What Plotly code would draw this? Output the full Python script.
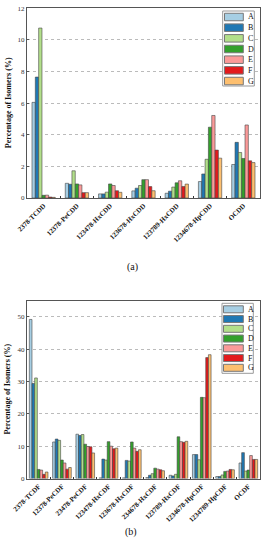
import plotly.graph_objects as go

# ---------------- data ----------------
series_names = ["A", "B", "C", "D", "E", "F", "G"]
series_colors = ["#a6cee3", "#1f78b4", "#b2df8a", "#33a02c", "#fb9a99", "#e31a1c", "#fdbf6f"]

pcdd_labels = ["2378-TCDD", "12378-PeCDD", "123478-HxCDD", "123678-HxCDD",
               "123789-HxCDD", "1234678-HpCDD", "OCDD"]
pcdd_A = [6.05, 0.93, 0.26, 0.45, 0.30, 1.04, 2.12]
pcdd_B = [7.65, 0.87, 0.26, 0.62, 0.43, 1.52, 3.52]
pcdd_C = [10.75, 1.72, 0.37, 0.79, 0.69, 2.45, 2.88]
pcdd_D = [0.17, 0.89, 0.89, 1.16, 0.96, 4.48, 2.50]
pcdd_E = [0.18, 0.83, 0.79, 1.16, 1.09, 5.22, 4.62]
pcdd_F = [0.06, 0.34, 0.46, 0.72, 0.73, 3.03, 2.35]
pcdd_G = [0.04, 0.34, 0.36, 0.46, 0.88, 2.52, 2.24]

pcdf_labels = ["2378-TCDF", "12378-PeCDF", "23478-PeCDF", "123478-HxCDF", "123678-HxCDF",
               "234678-HxCDF", "123789-HxCDF", "1234678-HpCDF", "1234789-HpCDF", "OCDF"]
pcdf_A = [49.2, 11.3, 13.7, 0.2, 0.2, 0.3, 1.0, 7.4, 0.6, 4.8]
pcdf_B = [29.4, 12.2, 13.3, 6.0, 5.6, 1.0, 0.8, 7.4, 0.6, 8.0]
pcdf_C = [31.1, 11.8, 13.6, 5.7, 5.4, 1.5, 1.3, 5.8, 1.1, 2.3]
pcdf_D = [2.8, 5.7, 10.6, 11.4, 11.3, 3.2, 12.9, 25.1, 2.2, 2.6]
pcdf_E = [2.6, 4.8, 9.9, 10.0, 9.4, 2.9, 11.4, 25.0, 2.3, 7.1]
pcdf_F = [1.3, 2.9, 9.8, 9.2, 8.4, 2.7, 11.2, 37.4, 2.8, 5.9]
pcdf_G = [2.0, 3.4, 7.9, 9.4, 8.9, 2.4, 11.5, 38.3, 2.7, 5.9]

pcdd_ticks = [0, 2, 4, 6, 8, 10, 12]
pcdf_ticks = [0, 10, 20, 30, 40, 50]

pcdd_values = [pcdd_A, pcdd_B, pcdd_C, pcdd_D, pcdd_E, pcdd_F, pcdd_G]
pcdf_values = [pcdf_A, pcdf_B, pcdf_C, pcdf_D, pcdf_E, pcdf_F, pcdf_G]

# ---------------- layout helpers ----------------
W, H = 269, 550
FONT = "Liberation Serif"


def px(x):
    return x / W


def py(y):
    return 1 - y / H


fig = go.Figure()

n = len(series_names)
w_top = 0.70 / n
w_bot = 0.80 / n
for i, (name, color, vals) in enumerate(zip(series_names, series_colors, pcdd_values)):
    fig.add_trace(go.Bar(x=pcdd_labels, y=vals, name=name, marker_color=color,
                         marker_line=dict(color="#444444", width=0.6),
                         width=w_top, offset=-n * w_top / 2 + i * w_top,
                         xaxis="x", yaxis="y", showlegend=False))
for i, (name, color, vals) in enumerate(zip(series_names, series_colors, pcdf_values)):
    fig.add_trace(go.Bar(x=pcdf_labels, y=vals, name=name, marker_color=color,
                         marker_line=dict(color="#444444", width=0.6),
                         width=w_bot, offset=-n * w_bot / 2 + i * w_bot,
                         xaxis="x2", yaxis="y2", showlegend=False))

xcommon = dict(showline=True, linecolor="#555555", linewidth=1, mirror=True,
               ticks="inside", ticklen=2, tickcolor="#333333", tickson="boundaries",
               tickangle=-45, tickfont=dict(family=FONT, size=7, color="#111111"),
               automargin=False, showgrid=False)
ycommon = dict(showline=True, linecolor="#555555", linewidth=1, mirror=True,
               ticks="inside", ticklen=2, tickcolor="#555555",
               tickfont=dict(family=FONT, size=7, color="#333333"),
               showgrid=True, gridcolor="#bbbbbb", griddash="dot", gridwidth=0.8,
               zeroline=False, automargin=False)

fig.update_layout(
    width=W, height=H,
    margin=dict(l=0, r=0, t=0, b=0),
    paper_bgcolor="white", plot_bgcolor="white",
    barmode="overlay",
    showlegend=False,
    xaxis=dict(domain=[px(27), px(260)], anchor="y",
               tickvals=pcdd_labels, ticktext=["<b>%s</b>" % t for t in pcdd_labels], **xcommon),
    yaxis=dict(domain=[py(198), py(8.3)], anchor="x", range=[0, 12],
               tickvals=pcdd_ticks, **ycommon),
    xaxis2=dict(domain=[px(27), px(260)], anchor="y2",
                tickvals=pcdf_labels, ticktext=["<b>%s</b>" % t for t in pcdf_labels], **xcommon),
    yaxis2=dict(domain=[py(478.5), py(300.7)], anchor="x2", range=[0, 55],
                tickvals=pcdf_ticks, **ycommon),
)

annotations = []
shapes = []

# y-axis titles
for yc in [(8.3 + 198) / 2, (300.7 + 478.5) / 2]:
    annotations.append(dict(x=px(8), y=py(yc), xref="paper", yref="paper",
                            text="<b>Percentage of Isomers (%)</b>", textangle=-90,
                            showarrow=False, font=dict(family=FONT, size=8, color="#111111"),
                            xanchor="center", yanchor="middle"))

# captions
annotations.append(dict(x=px(132), y=py(267), xref="paper", yref="paper", text="(a)",
                        showarrow=False, font=dict(family=FONT, size=10, color="#111111")))
annotations.append(dict(x=px(131), y=py(540), xref="paper", yref="paper", text="(b)",
                        showarrow=False, font=dict(family=FONT, size=10, color="#111111")))

# manual legends
legend_specs = [
    dict(box=(222.7, 11, 254.3, 86), first=17, step=10.67, rx=(224.5, 243.3), rh=7.5),
    dict(box=(222, 303.3, 253.3, 373.3), first=309.3, step=9.75, rx=(223.5, 243.3), rh=7),
]
for spec in legend_specs:
    x0, y0, x1, y1 = spec["box"]
    shapes.append(dict(type="rect", xref="paper", yref="paper",
                       x0=px(x0), x1=px(x1), y0=py(y1), y1=py(y0),
                       line=dict(color="#999999", width=1), fillcolor="white", layer="above"))
    for i, (name, color) in enumerate(zip(series_names, series_colors)):
        cy = spec["first"] + i * spec["step"]
        shapes.append(dict(type="rect", xref="paper", yref="paper",
                           x0=px(spec["rx"][0]), x1=px(spec["rx"][1]),
                           y0=py(cy + spec["rh"] / 2), y1=py(cy - spec["rh"] / 2),
                           line=dict(color="#777777", width=1), fillcolor=color, layer="above"))
        annotations.append(dict(x=px(245.5), y=py(cy), xref="paper", yref="paper",
                                text=name, showarrow=False, xanchor="left", yanchor="middle",
                                font=dict(family=FONT, size=8, color="#111111")))

fig.update_layout(annotations=annotations, shapes=shapes)

fig.write_html("out.html",
               config={"displayModeBar": False},
               post_script="document.body.style.margin='0';document.body.style.overflow='hidden';")
